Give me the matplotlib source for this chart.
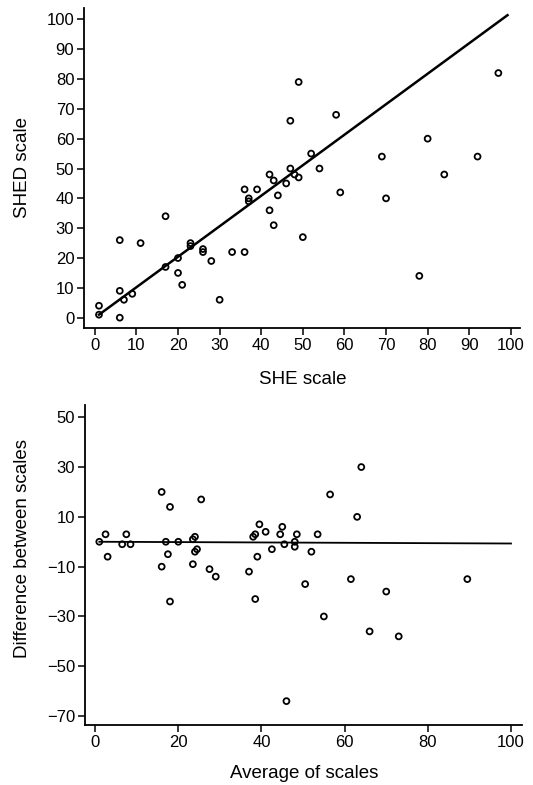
import matplotlib
matplotlib.use("Agg")
import matplotlib.pyplot as plt

plt.rcParams['font.family'] = ['Liberation Sans', 'DejaVu Sans']

# Top panel: SHE vs SHED
she = [1, 1, 6, 6, 6, 7, 9, 11, 17, 17, 20, 20, 21, 23, 23, 26, 26, 28, 30, 33,
       36, 36, 37, 37, 39, 42, 42, 43, 43, 44, 46, 47, 47, 48, 49, 49, 50, 52,
       54, 58, 59, 69, 70, 78, 80, 84, 92, 97]
shed = [1, 4, 26, 9, 0, 6, 8, 25, 34, 17, 20, 15, 11, 25, 24, 23, 22, 19, 6, 22,
        22, 43, 40, 39, 43, 48, 36, 46, 31, 41, 45, 66, 50, 48, 47, 79, 27, 55,
        50, 68, 42, 54, 40, 14, 60, 48, 54, 82]
fit_x = [1, 99.2]
fit_y = [1, 101.4]

# Bottom panel: Bland-Altman
avg = [1, 2.5, 3, 6.5, 7.5, 8.5, 16, 16, 17, 17.5, 18, 18, 20, 23.5, 24, 23.5,
       24, 24.5, 25.5, 27.5, 29, 37, 38, 38.5, 38.5, 39, 39.5, 41, 42.5, 44.5,
       45, 45.5, 46, 48, 48, 48.5, 50.5, 52, 53.5, 55, 56.5, 61.5, 63, 64, 66,
       70, 73, 89.5]
diff = [0, 3, -6, -1, 3, -1, 20, -10, 0, -5, 14, -24, 0, 1, 2, -9, -4, -3, 17,
        -11, -14, -12, 2, 3, -23, -6, 7, 4, -3, 3, 6, -1, -64, 0, -2, 3, -17,
        -4, 3, -30, 19, -15, 10, 30, -36, -20, -38, -15]
mean_x = [1, 100]
mean_y = [0, -0.7]

top_xticks = list(range(0, 101, 10))
top_yticks = list(range(0, 101, 10))
bot_xticks = list(range(0, 101, 20))
bot_yticks = list(range(-70, 51, 20))

fig = plt.figure(figsize=(5.33, 7.85), dpi=100)
ax1 = fig.add_axes([0.1576, 0.5822, 0.818, 0.4076])
ax2 = fig.add_axes([0.159, 0.0764, 0.820, 0.4076])

mk = dict(marker='o', s=18, facecolors='none', edgecolors='black',
          linewidths=1.3, zorder=2)

ax1.scatter(she, shed, **mk)
ax1.plot(fit_x, fit_y, color='black', lw=1.8, zorder=3)
ax1.set_xlim(-2.6, 102.2)
ax1.set_ylim(-3.45, 103.8)
ax1.set_xticks(top_xticks)
ax1.set_yticks(top_yticks)
ax1.set_xlabel('SHE scale', fontsize=13.5)
ax1.set_ylabel('SHED scale', fontsize=13.5)
ax1.xaxis.set_label_coords(0.502, -0.1625)
ax1.yaxis.set_label_coords(-0.142, 0.5)

ax2.scatter(avg, diff, **mk)
ax2.plot(mean_x, mean_y, color='black', lw=1.3, zorder=3)
ax2.set_xlim(-2.5, 102.6)
ax2.set_ylim(-73.6, 54.9)
ax2.set_xticks(bot_xticks)
ax2.set_yticks(bot_yticks)
ax2.set_xlabel('Average of scales', fontsize=13.5)
ax2.set_ylabel('Difference between scales', fontsize=13.5)
ax2.xaxis.set_label_coords(0.502, -0.15)
ax2.yaxis.set_label_coords(-0.143, 0.553)

for ax in (ax1, ax2):
    ax.xaxis.label.set_verticalalignment('center')
    ax.yaxis.label.set_verticalalignment('center')
    ax.yaxis.label.set_horizontalalignment('center')
    ax.spines['top'].set_visible(False)
    ax.spines['right'].set_visible(False)
    ax.spines['left'].set_linewidth(1.3)
    ax.spines['bottom'].set_linewidth(1.3)
    ax.tick_params(direction='out', length=5, width=1.1, labelsize=12,
                   pad=2, colors='black')

fig.savefig('out.png', dpi=100)
